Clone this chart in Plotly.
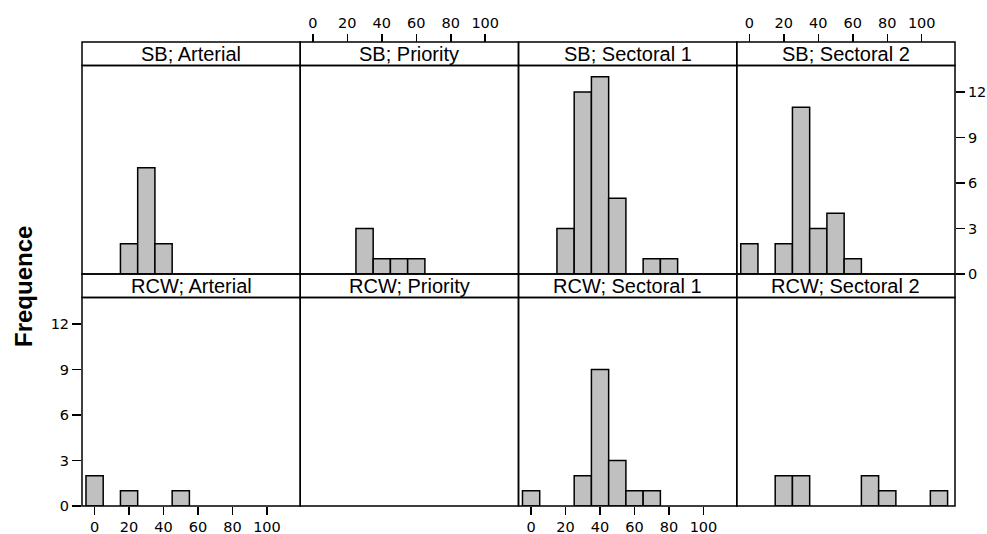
import plotly.graph_objects as go

# ---- data ----
bins = [0, 10, 20, 30, 40, 50, 60, 70, 80, 90, 100, 110]
sb_arterial = [0, 0, 2, 7, 2, 0, 0, 0, 0, 0, 0, 0]
sb_priority = [0, 0, 0, 3, 1, 1, 1, 0, 0, 0, 0, 0]
sb_sectoral1 = [0, 0, 3, 12, 13, 5, 0, 1, 1, 0, 0, 0]
sb_sectoral2 = [2, 0, 2, 11, 3, 4, 1, 0, 0, 0, 0, 0]
rcw_arterial = [2, 0, 1, 0, 0, 1, 0, 0, 0, 0, 0, 0]
rcw_priority = [0, 0, 0, 0, 0, 0, 0, 0, 0, 0, 0, 0]
rcw_sectoral1 = [1, 0, 0, 2, 9, 3, 1, 1, 0, 0, 0, 0]
rcw_sectoral2 = [0, 0, 2, 2, 0, 0, 0, 2, 1, 0, 0, 1]

panel_titles = [
    "SB; Arterial", "SB; Priority", "SB; Sectoral 1", "SB; Sectoral 2",
    "RCW; Arterial", "RCW; Priority", "RCW; Sectoral 1", "RCW; Sectoral 2",
]
panel_counts = [sb_arterial, sb_priority, sb_sectoral1, sb_sectoral2,
                rcw_arterial, rcw_priority, rcw_sectoral1, rcw_sectoral2]
x_ticks = [0, 20, 40, 60, 80, 100]
y_ticks = [0, 3, 6, 9, 12]
y_label = "Frequence"

# ---- layout geometry ----
W, H = 987, 534
ML, MR, MT, MB = 82, 32, 42, 28
PW, PH = W - ML - MR, H - MT - MB
strip_px = 23.5
row_px = (PH - 2 * strip_px) / 2


def py(px_from_top):
    return 1 - px_from_top / PH


col_w = 1 / 4
row_domains = [
    [py(strip_px + row_px), py(strip_px)],
    [py(2 * strip_px + 2 * row_px), py(2 * strip_px + row_px)],
]
strip_domains = [
    [py(strip_px), 1.0],
    [py(2 * strip_px + row_px), py(strip_px + row_px)],
]

XR = [-7.3, 119.3]
YR = [0, 13.75]
tick_font = dict(family="DejaVu Sans", size=14.5, color="black")

fig = go.Figure()
shapes = []
annotations = []

for i, (title, counts) in enumerate(zip(panel_titles, panel_counts)):
    r, c = divmod(i, 4)
    n = i + 1
    xa = "x" if n == 1 else f"x{n}"
    ya = "y" if n == 1 else f"y{n}"
    xs = [b for b, v in zip(bins, counts) if v > 0]
    ys = [v for v in counts if v > 0]
    fig.add_trace(go.Bar(
        x=xs, y=ys, width=10, xaxis=xa, yaxis=ya, showlegend=False,
        hoverinfo="skip",
        marker=dict(color="#C0C0C0", line=dict(color="black", width=1.5)),
    ))
    xdom = [c * col_w, (c + 1) * col_w]
    ydom = row_domains[r]

    # x axis
    xkey = "xaxis" if n == 1 else f"xaxis{n}"
    xax = dict(domain=xdom, range=XR, anchor=ya, showgrid=False, zeroline=False,
               showline=False, tickvals=x_ticks, fixedrange=True, automargin=False)
    if (r == 1 and c in (0, 2)):
        xax.update(ticks="outside", ticklen=8, tickwidth=1.5, tickcolor="black",
                   showticklabels=True, tickfont=tick_font)
    elif (r == 0 and c in (1, 3)):
        xax.update(ticks="outside", ticklen=8, tickwidth=1.5, tickcolor="black",
                   showticklabels=True, tickfont=tick_font, side="top",
                   anchor="free", position=1.0)
    else:
        xax.update(ticks="", showticklabels=False)
    fig.layout[xkey] = xax

    # y axis
    ykey = "yaxis" if n == 1 else f"yaxis{n}"
    yax = dict(domain=ydom, range=YR, anchor=xa, showgrid=False, zeroline=False,
               showline=False, tickvals=y_ticks, fixedrange=True, automargin=False)
    if r == 0 and c == 3:
        yax.update(ticks="outside", ticklen=9, tickwidth=1.5, tickcolor="black",
                   showticklabels=True, tickfont=tick_font, side="right")
    elif r == 1 and c == 0:
        yax.update(ticks="outside", ticklen=9, tickwidth=1.5, tickcolor="black",
                   showticklabels=True, tickfont=tick_font)
    else:
        yax.update(ticks="", showticklabels=False)
    fig.layout[ykey] = yax

    # panel border
    shapes.append(dict(type="rect", xref="paper", yref="paper",
                       x0=xdom[0], x1=xdom[1], y0=ydom[0], y1=ydom[1],
                       line=dict(color="black", width=1.5), layer="above"))
    # strip
    sd = strip_domains[r]
    shapes.append(dict(type="rect", xref="paper", yref="paper",
                       x0=xdom[0], x1=xdom[1], y0=sd[0], y1=sd[1],
                       line=dict(color="black", width=1.5), layer="above"))
    annotations.append(dict(text=title, xref="paper", yref="paper",
                            x=(xdom[0] + xdom[1]) / 2, y=(sd[0] + sd[1]) / 2,
                            xanchor="center", yanchor="middle", showarrow=False,
                            font=dict(family="Liberation Sans", size=20, color="black")))

annotations.append(dict(text=f"<b>{y_label}</b>", xref="paper", yref="paper",
                        x=(23 - ML) / PW, y=(MT + PH - 287) / PH,
                        xanchor="center", yanchor="middle", textangle=-90,
                        showarrow=False,
                        font=dict(family="Liberation Sans", size=24, color="black")))

fig.update_layout(
    width=W, height=H,
    margin=dict(l=ML, r=MR, t=MT, b=MB, autoexpand=False),
    paper_bgcolor="white", plot_bgcolor="white",
    shapes=shapes, annotations=annotations,
    bargap=0, showlegend=False, hovermode=False,
)

fig.write_html(
    "out.html",
    config={"displayModeBar": False, "staticPlot": True},
    post_script="document.body.style.margin='0px';document.body.style.overflow='hidden';",
)
